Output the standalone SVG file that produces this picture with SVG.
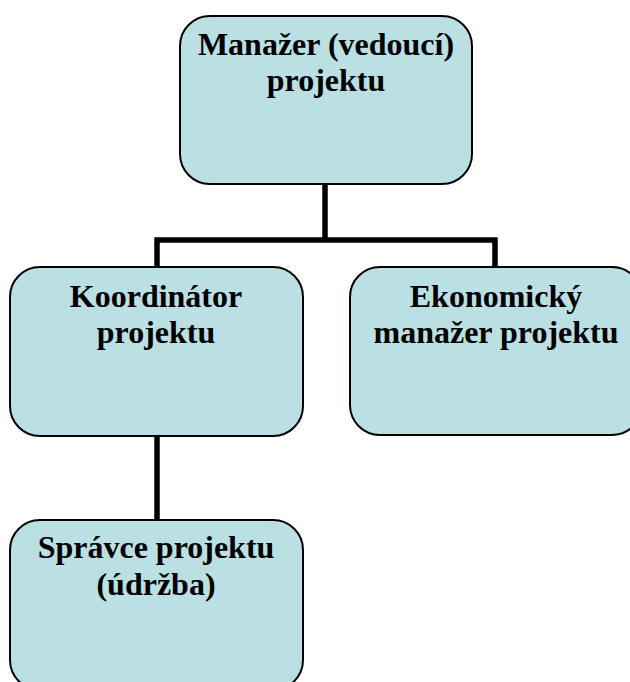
<svg xmlns="http://www.w3.org/2000/svg" width="630" height="682" viewBox="0 0 630 682">
<style>
.box{fill:#BBE0E3;stroke:#000;stroke-width:2}
.t{font-family:"Liberation Serif","Times New Roman",serif;font-weight:bold;font-size:32px;fill:#000;text-anchor:middle}
.c{fill:none;stroke:#000;stroke-width:5.5}
</style>
<rect width="630" height="682" fill="#fff"/>
<g id="connectors">
<path class="c" d="M325 184 V240 M157 240 H495 M157 237.25 V267 M495 237.25 V267"/>
<path class="c" d="M157 436 V520"/>
</g>
<g id="node-manazer">
<rect class="box" x="180" y="16" width="292" height="168" rx="30"/>
<text class="t" x="326" y="55">Manažer (vedoucí)</text>
<text class="t" x="326" y="91">projektu</text>
</g>
<g id="node-koordinator">
<rect class="box" x="10" y="267" width="293" height="169" rx="30"/>
<text class="t" x="156" y="307">Koordinátor</text>
<text class="t" x="156" y="343">projektu</text>
</g>
<g id="node-ekonomicky">
<rect class="box" x="350" y="267" width="292" height="168" rx="30"/>
<text class="t" x="496" y="307">Ekonomický</text>
<text class="t" x="496" y="343">manažer projektu</text>
</g>
<g id="node-spravce">
<rect class="box" x="10" y="520" width="293" height="170" rx="30"/>
<text class="t" x="156" y="558">Správce projektu</text>
<text class="t" x="156" y="595">(údržba)</text>
</g>
</svg>
